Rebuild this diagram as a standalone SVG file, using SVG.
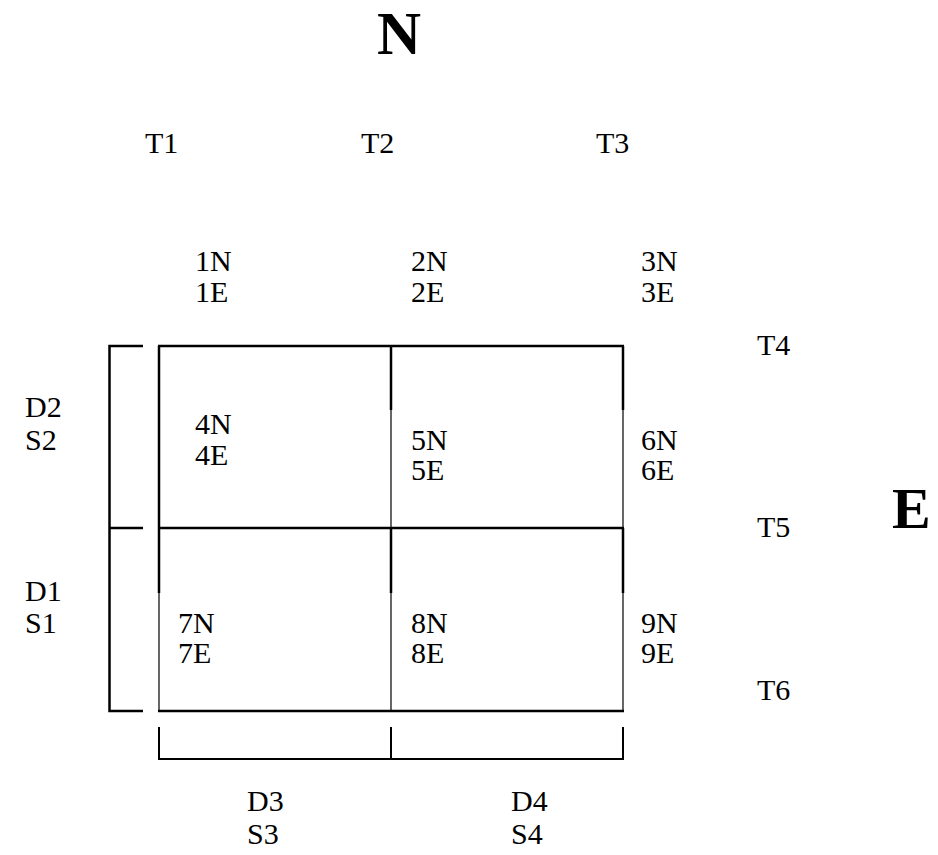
<svg xmlns="http://www.w3.org/2000/svg" width="938" height="855" viewBox="0 0 938 855">
<style>
text{font-family:"Liberation Serif","Times New Roman",serif;font-size:30px;fill:#000}
.big{font-weight:bold}
.thick{stroke:#000;stroke-width:2.5;fill:none}
.thin{stroke:#000;stroke-width:1.2;fill:none}
</style>
<rect width="938" height="855" fill="#fff"/>
<g id="connectors">
<line class="thick" x1="158" y1="346" x2="624" y2="346"/>
<line class="thick" x1="158" y1="528" x2="624" y2="528"/>
<line class="thick" x1="158" y1="711" x2="624" y2="711"/>
<line class="thick" x1="159" y1="346" x2="159" y2="528"/>
<line class="thick" x1="159" y1="528" x2="159" y2="593"/>
<line class="thin" x1="159" y1="593" x2="159" y2="711"/>
<line class="thick" x1="391" y1="346" x2="391" y2="410"/>
<line class="thin" x1="391" y1="410" x2="391" y2="528"/>
<line class="thick" x1="391" y1="528" x2="391" y2="593"/>
<line class="thin" x1="391" y1="593" x2="391" y2="711"/>
<line class="thick" x1="623" y1="346" x2="623" y2="410"/>
<line class="thin" x1="623" y1="410" x2="623" y2="528"/>
<line class="thick" x1="623" y1="528" x2="623" y2="593"/>
<line class="thin" x1="623" y1="593" x2="623" y2="711"/>
<path class="thick" d="M143 346H109.5V711H143M109.5 528H143"/>
<path class="thick" d="M159 727V759H623V727M391 727V759" style="stroke-width:2"/>
</g>
<g id="N"><text class="big" x="377" y="54" style="font-size:61px">N</text></g>
<g id="E"><text class="big" x="892" y="528" style="font-size:58px">E</text></g>
<g id="T1"><text x="145" y="153">T1</text></g>
<g id="T2"><text x="361" y="153">T2</text></g>
<g id="T3"><text x="596" y="153">T3</text></g>
<g id="T4"><text x="757" y="355">T4</text></g>
<g id="T5"><text x="757" y="537">T5</text></g>
<g id="T6"><text x="757" y="700">T6</text></g>
<g id="c1"><text x="195" y="271">1N</text><text x="195" y="302">1E</text></g>
<g id="c2"><text x="411" y="271">2N</text><text x="411" y="302">2E</text></g>
<g id="c3"><text x="641" y="271">3N</text><text x="641" y="302">3E</text></g>
<g id="c4"><text x="195" y="434">4N</text><text x="195" y="465">4E</text></g>
<g id="c5"><text x="411" y="450">5N</text><text x="411" y="480">5E</text></g>
<g id="c6"><text x="641" y="450">6N</text><text x="641" y="480">6E</text></g>
<g id="c7"><text x="178" y="633">7N</text><text x="178" y="663">7E</text></g>
<g id="c8"><text x="411" y="633">8N</text><text x="411" y="663">8E</text></g>
<g id="c9"><text x="641" y="633">9N</text><text x="641" y="663">9E</text></g>
<g id="DS2"><text x="25" y="417">D2</text><text x="25" y="450">S2</text></g>
<g id="DS1"><text x="25" y="601">D1</text><text x="25" y="633">S1</text></g>
<g id="DS3"><text x="247" y="811">D3</text><text x="247" y="844">S3</text></g>
<g id="DS4"><text x="511" y="811">D4</text><text x="511" y="844">S4</text></g>
</svg>
